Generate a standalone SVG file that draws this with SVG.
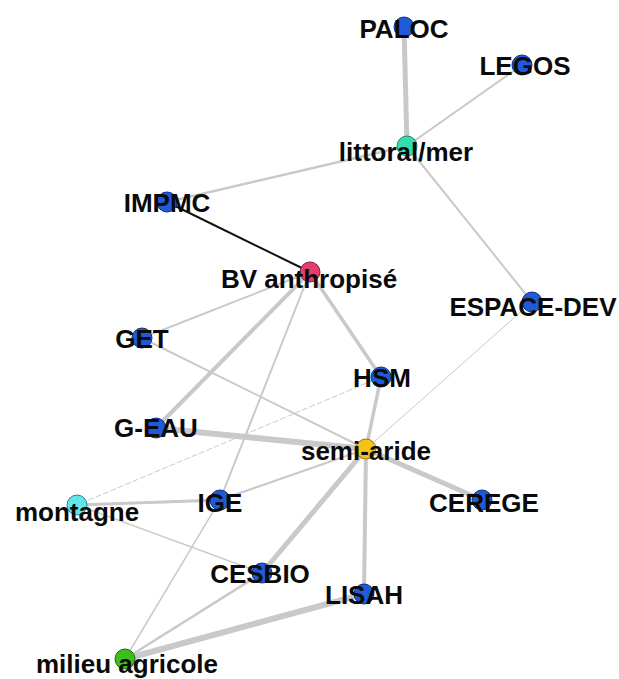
<svg xmlns="http://www.w3.org/2000/svg" width="619" height="679" viewBox="0 0 619 679">
<style>
.e{stroke:#c9c9c9;fill:none;stroke-linecap:round}
.k{stroke:#111;fill:none}
.n{stroke-width:1}
.b{fill:#1f5bd8;stroke:#0c2f86}
.t{font-family:"Liberation Sans",Arial,sans-serif;font-weight:bold;font-size:26px;fill:#0a0a0a;text-anchor:middle}
</style>
<rect width="619" height="679" fill="#fff"/>
<g id="edges">
<line class="e" x1="404" y1="27" x2="407" y2="146" stroke-width="5"/>
<line class="e" x1="522" y1="65" x2="407" y2="146" stroke-width="2"/>
<line class="e" x1="407" y1="146" x2="167" y2="202" stroke-width="2.5"/>
<line class="e" x1="407" y1="146" x2="532" y2="302" stroke-width="2"/>
<line class="k" x1="167" y1="202" x2="310" y2="272" stroke-width="2"/>
<line class="e" x1="310" y1="272" x2="142" y2="338" stroke-width="2"/>
<line class="e" x1="310" y1="272" x2="156" y2="428" stroke-width="4"/>
<line class="e" x1="310" y1="272" x2="220" y2="500" stroke-width="2"/>
<line class="e" x1="310" y1="272" x2="381" y2="377" stroke-width="3.5"/>
<line class="e" x1="142" y1="338" x2="366" y2="449" stroke-width="2"/>
<line class="e" x1="381" y1="377" x2="366" y2="449" stroke-width="3.5"/>
<line class="e" x1="381" y1="377" x2="77" y2="505" stroke-width="1" stroke-dasharray="5 3"/>
<line class="e" x1="156" y1="428" x2="366" y2="449" stroke-width="6"/>
<line class="e" x1="532" y1="302" x2="366" y2="449" stroke-width="1"/>
<line class="e" x1="366" y1="449" x2="220" y2="500" stroke-width="2"/>
<line class="e" x1="366" y1="449" x2="482" y2="500" stroke-width="5"/>
<line class="e" x1="366" y1="449" x2="262" y2="573" stroke-width="5"/>
<line class="e" x1="366" y1="449" x2="364" y2="594" stroke-width="4"/>
<line class="e" x1="77" y1="505" x2="220" y2="500" stroke-width="3"/>
<line class="e" x1="77" y1="505" x2="262" y2="573" stroke-width="1.5"/>
<line class="e" x1="262" y1="573" x2="125" y2="659" stroke-width="2.5"/>
<line class="e" x1="364" y1="594" x2="125" y2="659" stroke-width="6"/>
<line class="e" x1="220" y1="500" x2="125" y2="659" stroke-width="1.5"/>
</g>
<g id="PALOC"><circle class="n b" cx="404" cy="27" r="10"/><text class="t" x="404" y="38">PALOC</text></g>
<g id="LEGOS"><circle class="n b" cx="522" cy="65" r="10"/><text class="t" x="525" y="75">LEGOS</text></g>
<g id="littoral"><circle class="n" cx="407" cy="146" r="10" fill="#35dcb0" stroke="#1c8a6a"/><text class="t" x="406" y="161">littoral/mer</text></g>
<g id="IMPMC"><circle class="n b" cx="167" cy="202" r="10"/><text class="t" x="167" y="212">IMPMC</text></g>
<g id="BV"><circle class="n" cx="310" cy="272" r="10" fill="#e23f6b" stroke="#8a1a38"/><text class="t" x="309" y="288">BV anthropisé</text></g>
<g id="ESPACE-DEV"><circle class="n b" cx="532" cy="302" r="10"/><text class="t" x="533" y="316">ESPACE-DEV</text></g>
<g id="GET"><circle class="n b" cx="142" cy="338" r="10"/><text class="t" x="142" y="348">GET</text></g>
<g id="HSM"><circle class="n b" cx="381" cy="377" r="10"/><text class="t" x="382" y="387">HSM</text></g>
<g id="G-EAU"><circle class="n b" cx="156" cy="428" r="10"/><text class="t" x="156" y="437">G-EAU</text></g>
<g id="semi-aride"><circle class="n" cx="366" cy="449" r="10" fill="#f5c21a" stroke="#9a7400"/><text class="t" x="366" y="460">semi-aride</text></g>
<g id="IGE"><circle class="n b" cx="220" cy="500" r="10"/><text class="t" x="220" y="512">IGE</text></g>
<g id="montagne"><circle class="n" cx="77" cy="505" r="10" fill="#62e6ea" stroke="#1c8a90"/><text class="t" x="77" y="521">montagne</text></g>
<g id="CEREGE"><circle class="n b" cx="482" cy="500" r="10"/><text class="t" x="484" y="512">CEREGE</text></g>
<g id="CESBIO"><circle class="n b" cx="262" cy="573" r="10"/><text class="t" x="260" y="583">CESBIO</text></g>
<g id="LISAH"><circle class="n b" cx="364" cy="594" r="10"/><text class="t" x="364" y="604">LISAH</text></g>
<g id="milieu"><circle class="n" cx="125" cy="659" r="10" fill="#3cbf1e" stroke="#1a6a0a"/><text class="t" x="127" y="673">milieu agricole</text></g>
</svg>
